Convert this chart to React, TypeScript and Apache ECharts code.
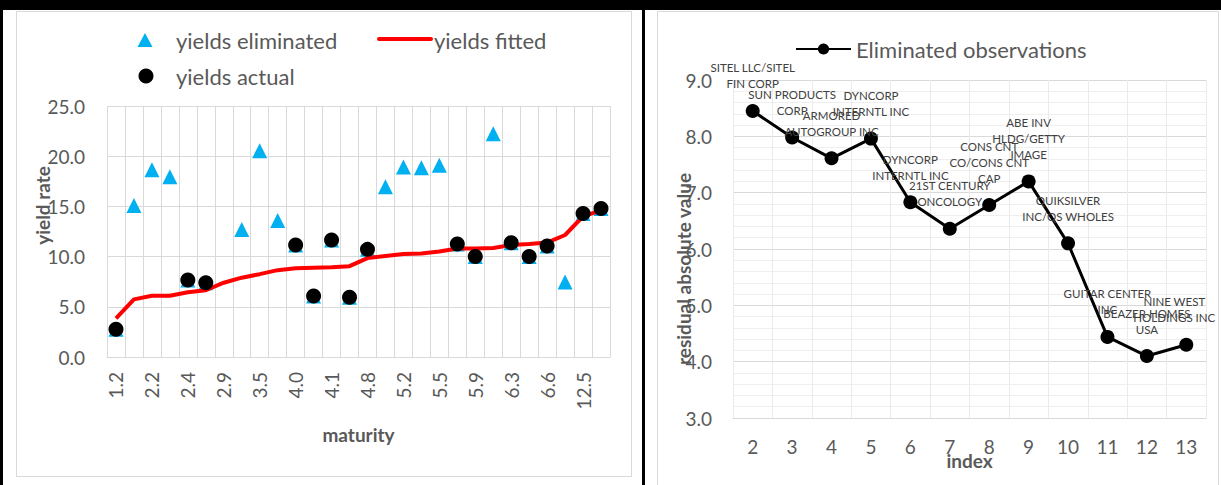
import React, { useEffect, useRef } from "react";
import * as echarts from "echarts";

// ---- Left chart data ----
const maturityTicks = [
  "1.2", "", "2.2", "", "2.4", "", "2.9", "", "3.5", "", "4.0", "", "4.1", "",
  "4.8", "", "5.2", "", "5.5", "", "5.9", "", "6.3", "", "6.6", "", "12.5", "",
];
const yieldsEliminated = [
  2.76, 15.1, 18.66, 17.96, 7.67, 7.4, null, 12.7, 20.55, 13.6, 11.15, 6.07, 11.65, 5.94,
  10.72, 16.96, 18.92, 18.86, 19.09, 11.25, 10.0, 22.24, 11.39, 10.0, 11.06, 7.47, 14.3, 14.8,
];
const yieldsActual = [
  2.76, null, null, null, 7.67, 7.4, null, null, null, null, 11.15, 6.07, 11.65, 5.94,
  10.72, null, null, null, null, 11.25, 10.0, null, 11.39, 10.0, 11.06, null, 14.3, 14.8,
];
const yieldsFitted = [
  3.85, 5.74, 6.1, 6.1, 6.45, 6.65, 7.4, 7.9, 8.25, 8.65, 8.85, 8.9, 8.95, 9.05,
  9.85, 10.05, 10.25, 10.3, 10.5, 10.8, 10.8, 10.85, 11.15, 11.25, 11.4, 12.15, 14.0, 14.6,
];
const leftLegendNames = ["yields eliminated", "yields fitted", "yields actual"];

// ---- Right chart data ----
const indexTicks = ["2", "3", "4", "5", "6", "7", "8", "9", "10", "11", "12", "13"];
const residuals = [8.45, 7.98, 7.61, 7.96, 6.83, 6.36, 6.78, 7.2, 6.1, 4.44, 4.1, 4.3];
const companyNames = [
  "SITEL LLC/SITEL\nFIN CORP",
  "SUN PRODUCTS\nCORP",
  "ARMORED\nAUTOGROUP INC",
  "DYNCORP\nINTERNTL INC",
  "DYNCORP\nINTERNTL INC",
  "21ST CENTURY\nONCOLOGY",
  "CONS CNT\nCO/CONS CNT\nCAP",
  "ABE INV\nHLDG/GETTY\nIMAGE",
  "QUIKSILVER\nINC/QS WHOLES",
  "GUITAR CENTER\nINC",
  "BEAZER HOMES\nUSA",
  "NINE WEST\nHOLDINGS INC",
];

const FONT = "Lato";
const GRAY = "#595959";
const BLUE = "#00b0f0";

export default function App() {
  const ref = useRef<HTMLDivElement>(null);
  useEffect(() => {
    if (!ref.current) return;
    const chart = echarts.init(ref.current, null, { renderer: "svg" });
    const axisLabel = { fontSize: 19, color: GRAY, fontFamily: FONT };
    const nameStyle = { fontSize: 19, color: GRAY, fontWeight: "bold" as const, fontFamily: FONT };
    const legendText = (x: number, y: number, text: string) => ({
      type: "text", silent: true, x, y,
      style: { text, fill: GRAY, font: `22px ${FONT}`, verticalAlign: "middle", align: "left" },
    });
    const lastIdx = residuals.length - 1;
    chart.setOption({
      animation: false,
      backgroundColor: "#ffffff",
      textStyle: { fontFamily: FONT },
      graphic: [
        { type: "rect", silent: true, shape: { x: 0, y: 0, width: 1221, height: 10 }, style: { fill: "#000" } },
        { type: "rect", silent: true, shape: { x: 0, y: 0, width: 3, height: 485 }, style: { fill: "#000" } },
        { type: "rect", silent: true, shape: { x: 642, y: 0, width: 3, height: 485 }, style: { fill: "#000" } },
        { type: "rect", silent: true, shape: { x: 16.5, y: 11.5, width: 615, height: 465 }, style: { fill: "none", stroke: "#d9d9d9", lineWidth: 1 } },
        { type: "rect", silent: true, shape: { x: 657.5, y: 11.5, width: 561, height: 490 }, style: { fill: "none", stroke: "#d9d9d9", lineWidth: 1 } },
        // left legend
        { type: "polygon", silent: true, shape: { points: [[145, 33], [137.5, 47], [152.5, 47]] }, style: { fill: BLUE } },
        legendText(176, 40, leftLegendNames[0]),
        { type: "line", silent: true, shape: { x1: 379, y1: 39, x2: 431, y2: 39 }, style: { stroke: "#ff0000", lineWidth: 4, lineCap: "round" } },
        legendText(434, 40, leftLegendNames[1]),
        { type: "circle", silent: true, shape: { cx: 146, cy: 76, r: 7.5 }, style: { fill: "#000" } },
        legendText(176, 76, leftLegendNames[2]),
      ],
      legend: [
        {
          data: ["Eliminated observations"],
          left: 790, top: 33, itemWidth: 55, itemHeight: 14,
          textStyle: { fontSize: 22, color: GRAY, fontFamily: FONT },
        },
      ],
      grid: [
        { left: 107, top: 106, width: 503, height: 251 },
        { left: 733, top: 80, width: 473, height: 338 },
      ],
      xAxis: [
        {
          gridIndex: 0, type: "category", data: maturityTicks, boundaryGap: true,
          axisLine: { lineStyle: { color: "#d9d9d9" } },
          axisTick: { show: false },
          axisLabel: { ...axisLabel, interval: 0, rotate: 90, margin: 15 },
          splitLine: { show: true, interval: 0, lineStyle: { color: "#d9d9d9" } },
          name: "maturity", nameLocation: "middle", nameGap: 68, nameMoveOverlap: false,
          nameTextStyle: nameStyle,
        },
        {
          gridIndex: 1, type: "category", data: indexTicks, boundaryGap: true,
          axisLine: { lineStyle: { color: "#d9d9d9" } },
          axisTick: { show: false },
          axisLabel: { ...axisLabel, interval: 0, margin: 19 },
          splitLine: { show: true, interval: 0, lineStyle: { color: "#ebebeb" } },
          name: "index", nameLocation: "middle", nameGap: 33, nameMoveOverlap: false,
          nameTextStyle: nameStyle,
        },
      ],
      yAxis: [
        {
          gridIndex: 0, type: "value", min: 0, max: 25, interval: 5,
          axisLine: { show: false }, axisTick: { show: false },
          axisLabel: { ...axisLabel, margin: 22, formatter: (v: number) => v.toFixed(1) },
          splitLine: { lineStyle: { color: "#d9d9d9" } },
          name: "yield rate", nameLocation: "middle", nameRotate: 90, nameGap: 55, nameMoveOverlap: false,
          nameTextStyle: { ...nameStyle, padding: [0, 0, 0, 52] },
        },
        {
          gridIndex: 1, type: "value", min: 3, max: 9, interval: 1,
          axisLine: { show: false }, axisTick: { show: false },
          axisLabel: { ...axisLabel, margin: 21, formatter: (v: number) => v.toFixed(1) },
          splitLine: { lineStyle: { color: "#d9d9d9" } },
          minorTick: { show: false, splitNumber: 5 },
          minorSplitLine: { show: true, lineStyle: { color: "#efefef" } },
          name: "residual absolute value", nameLocation: "middle", nameRotate: 90, nameGap: 40, nameMoveOverlap: false,
          nameTextStyle: { ...nameStyle, padding: [0, 40, 0, 0] },
        },
      ],
      series: [
        {
          name: "yields eliminated", type: "scatter", xAxisIndex: 0, yAxisIndex: 0,
          data: yieldsEliminated, symbol: "triangle", symbolSize: 15,
          itemStyle: { color: BLUE, opacity: 1 }, z: 2,
        },
        {
          name: "yields fitted", type: "line", xAxisIndex: 0, yAxisIndex: 0,
          data: yieldsFitted, symbol: "none", showSymbol: false,
          lineStyle: { color: "#ff0000", width: 4 }, itemStyle: { color: "#ff0000" }, z: 3,
        },
        {
          name: "yields actual", type: "scatter", xAxisIndex: 0, yAxisIndex: 0,
          data: yieldsActual, symbol: "circle", symbolSize: 15,
          itemStyle: { color: "#000000", opacity: 1 }, z: 4,
        },
        {
          name: "Eliminated observations", type: "line", xAxisIndex: 1, yAxisIndex: 1,
          data: residuals.map((v, i) => (i === lastIdx ? { value: v, label: { offset: [-12, 0] } } : v)),
          symbol: "circle", symbolSize: 14,
          lineStyle: { color: "#000000", width: 3 }, itemStyle: { color: "#000000", opacity: 1 },
          label: {
            show: true, position: "top", distance: 12,
            formatter: (p: any) => companyNames[p.dataIndex],
            fontSize: 11.5, lineHeight: 16, color: "#404040", fontFamily: FONT,
          },
        },
      ],
    });
    return () => chart.dispose();
  }, []);
  return (
    <div
      ref={ref}
      style={{ position: "fixed", left: 0, top: 0, width: 1221, height: 485 }}
    />
  );
}
